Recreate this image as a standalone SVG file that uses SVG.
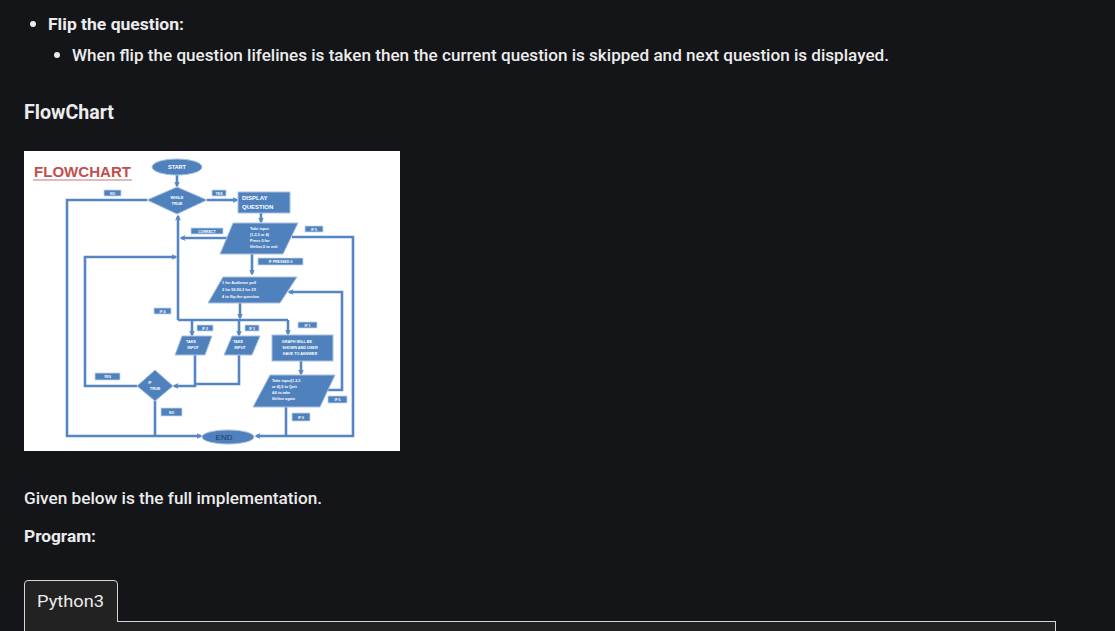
<svg xmlns="http://www.w3.org/2000/svg" width="1115" height="631" viewBox="0 0 1115 631">
<defs>
<style>
.pg{font-family:Roboto,"Noto Sans",sans-serif;fill:#ececec}
.b7{font-weight:700}
.b5{font-weight:500}
.sh{fill:#4f81bd;stroke:#a9c2e3;stroke-width:1}
.lb{fill:#4f81bd;stroke:#c4d6ee;stroke-width:0.8}
.t{font-family:"Liberation Sans",Arial,sans-serif;fill:#ffffff;font-weight:700;text-anchor:middle}
.c{fill:none;stroke:#5585c3;stroke-width:2.6;stroke-linejoin:miter}
.ch{fill:none;stroke:#c9daf0;stroke-width:4.4}
</style>
<marker id="ah" markerWidth="6" markerHeight="6" refX="4.5" refY="3" orient="auto" markerUnits="userSpaceOnUse" viewBox="0 0 6 6">
<path d="M0,0 L6,3 L0,6 L1.5,3 Z" fill="#5585c3"/>
</marker>
</defs>
<rect width="1115" height="631" fill="#141519"/>

<g id="page-text">
<circle cx="33" cy="24" r="3" fill="#ececec"/>
<text class="pg b7" x="48" y="30" font-size="17" textLength="136" lengthAdjust="spacingAndGlyphs">Flip the question:</text>
<circle cx="57" cy="55" r="3" fill="#ececec"/>
<text class="pg b5" x="72" y="61" font-size="16.5" textLength="817" lengthAdjust="spacingAndGlyphs">When flip the question lifelines is taken then the current question is skipped and next question is displayed.</text>
<text class="pg b7" x="24" y="119" font-size="20" textLength="90" lengthAdjust="spacingAndGlyphs">FlowChart</text>
<text class="pg b5" x="24" y="504" font-size="16.5" textLength="298" lengthAdjust="spacingAndGlyphs">Given below is the full implementation.</text>
<text class="pg b7" x="24" y="542" font-size="16.5" textLength="72" lengthAdjust="spacingAndGlyphs">Program:</text>
</g>

<g id="code-tab">
<rect x="24.5" y="621.5" width="1031" height="12" fill="#222222" stroke="#d6d6d6" stroke-width="1"/>
<path d="M24.5,631 V584 Q24.5,580.5 28,580.5 H114 Q117.5,580.5 117.5,584 V622" fill="#222222" stroke="#d6d6d6" stroke-width="1"/>
<text class="pg" x="37" y="607" font-size="17" textLength="67" lengthAdjust="spacingAndGlyphs">Python3</text>
</g>

<rect id="flowchart-image" x="24" y="151" width="376" height="300" fill="#ffffff"/>

<g id="title">
<text x="34" y="177" font-family="'Liberation Sans',Arial,sans-serif" font-weight="700" font-size="14.5" fill="#c0504d" textLength="97" lengthAdjust="spacingAndGlyphs">FLOWCHART</text>
<line x1="33" y1="180" x2="132" y2="180" stroke="#d9a3a2" stroke-width="1.5"/>
</g>

<g id="connectors">
<path class="c" d="M177,175 V186" marker-end="url(#ah)"/>
<path class="c" d="M207,200 H237" marker-end="url(#ah)"/>
<path class="c" d="M261,213 V222" marker-end="url(#ah)"/>
<path class="c" d="M147,200 H67 V436 H201" marker-end="url(#ah)"/>
<path class="c" d="M229,238 H181" marker-end="url(#ah)"/>
<path class="c" d="M178,320 V216" marker-end="url(#ah)"/>
<path class="c" d="M252,254 V274" marker-end="url(#ah)"/>
<path class="c" d="M292,237 H353 V436 H256" marker-end="url(#ah)"/>
<path class="c" d="M240,303 V318" marker-end="url(#ah)"/>
<path class="c" d="M178,320 H288"/>
<path class="c" d="M192,320 V335" marker-end="url(#ah)"/>
<path class="c" d="M239,320 V335" marker-end="url(#ah)"/>
<path class="c" d="M288,320 V334" marker-end="url(#ah)"/>
<path class="c" d="M195,355 V386 H174" marker-end="url(#ah)"/>
<path class="c" d="M239,355 V384 H195"/>
<path class="c" d="M137,386 H85 V257 H176" marker-end="url(#ah)"/>
<path class="c" d="M155,400 V436"/>
<path class="c" d="M301,361 V374" marker-end="url(#ah)"/>
<path class="c" d="M286,407 V436"/>
<path class="c" d="M328,390 H342 V292 H289" marker-end="url(#ah)"/>
</g>

<g id="start">
<ellipse class="sh" cx="177" cy="167" rx="25" ry="8"/>
<text class="t" x="177" y="169" font-size="5.5">START</text>
</g>
<g id="while-true">
<polygon class="sh" points="147,200 177,187 207,200 177,214"/>
<text class="t" x="177" y="199" font-size="4">WHILE</text>
<text class="t" x="177" y="205" font-size="4">TRUE</text>
</g>
<g id="display-question">
<rect class="sh" x="238" y="192" width="52" height="21"/>
<text class="t" x="242" y="200" font-size="6" text-anchor="start" style="text-anchor:start">DISPLAY</text>
<text class="t" x="242" y="209" font-size="6" style="text-anchor:start">QUESTION</text>
</g>
<g id="take-input">
<polygon class="sh" points="233,223 298,223 283,254 220,254"/>
<text class="t" x="250" y="230" font-size="3.8" style="text-anchor:start">Take input</text>
<text class="t" x="250" y="236" font-size="3.8" style="text-anchor:start">(1,2,3 or 4)</text>
<text class="t" x="250" y="242" font-size="3.8" style="text-anchor:start">Press 0 for</text>
<text class="t" x="250" y="248" font-size="3.8" style="text-anchor:start">lifeline,5 to exit</text>
</g>
<g id="lifeline-menu">
<polygon class="sh" points="223,277 297,277 280,303 208,303"/>
<text class="t" x="222" y="284" font-size="3.8" style="text-anchor:start">1 for Audience poll</text>
<text class="t" x="222" y="291" font-size="3.8" style="text-anchor:start">2 for 50-50,3 for 2X</text>
<text class="t" x="222" y="298" font-size="3.8" style="text-anchor:start">4 to flip the question</text>
</g>
<g id="take-input-2">
<polygon class="sh" points="182,336 212,336 205,355 175,355"/>
<text class="t" x="191" y="343" font-size="3.8">TAKE</text>
<text class="t" x="193" y="349" font-size="3.8">INPUT</text>
</g>
<g id="take-input-3">
<polygon class="sh" points="232,336 260,336 252,355 224,355"/>
<text class="t" x="238" y="343" font-size="3.8">TAKE</text>
<text class="t" x="240" y="349" font-size="3.8">INPUT</text>
</g>
<g id="graph">
<rect class="sh" x="272" y="335" width="61" height="26"/>
<text class="t" x="297" y="343" font-size="3.8">GRAPH WILL BE</text>
<text class="t" x="300" y="349" font-size="3.8">SHOWN AND USER</text>
<text class="t" x="300" y="355" font-size="3.8">HAVE TO ANSWER</text>
</g>
<g id="take-input-4">
<polygon class="sh" points="270,375 335,375 320,407 253,407"/>
<text class="t" x="272" y="382" font-size="3.8" style="text-anchor:start">Take input(1,2,3</text>
<text class="t" x="272" y="388" font-size="3.8" style="text-anchor:start">or 4),5 to Quit</text>
<text class="t" x="272" y="394" font-size="3.8" style="text-anchor:start">&amp;0 to take</text>
<text class="t" x="272" y="400" font-size="3.8" style="text-anchor:start">lifeline again</text>
</g>
<g id="if-true">
<polygon class="sh" points="137,386 155,370 173,386 155,401"/>
<text class="t" x="150" y="384" font-size="3.8">IF</text>
<text class="t" x="155" y="390" font-size="3.8">TRUE</text>
</g>
<g id="end">
<ellipse class="sh" cx="228" cy="437" rx="26" ry="7"/>
<text class="t" x="224" y="440" font-size="8" font-weight="400" fill="#1f3f6e" style="fill:#1f3a66;font-weight:400">END</text>
</g>

<g id="labels">
<rect class="lb" x="104" y="190" width="17" height="6"/><text class="t" x="112.5" y="194.5" font-size="3.5">NO</text>
<rect class="lb" x="212" y="190" width="14" height="6"/><text class="t" x="219" y="194.5" font-size="3.5">YES</text>
<rect class="lb" x="191" y="228" width="32" height="6"/><text class="t" x="207" y="232.5" font-size="3.5">CORRECT</text>
<rect class="lb" x="305" y="226" width="18" height="6"/><text class="t" x="314" y="230.5" font-size="3.5">IF 5</text>
<rect class="lb" x="258" y="258" width="45" height="7"/><text class="t" x="280.5" y="263" font-size="3.5">IF PRESSED 0</text>
<rect class="lb" x="154" y="308" width="17" height="6"/><text class="t" x="162.5" y="312.5" font-size="3.5">IF 4</text>
<rect class="lb" x="197" y="325" width="16" height="6"/><text class="t" x="205" y="329.5" font-size="3.5">IF 2</text>
<rect class="lb" x="245" y="325" width="14" height="6"/><text class="t" x="252" y="329.5" font-size="3.5">IF 3</text>
<rect class="lb" x="298" y="322" width="19" height="6"/><text class="t" x="307.5" y="326.5" font-size="3.5">IF 1</text>
<rect class="lb" x="95" y="373" width="25" height="7"/><text class="t" x="107.5" y="378" font-size="3.5">YES</text>
<rect class="lb" x="161" y="408" width="21" height="8"/><text class="t" x="171.5" y="413.5" font-size="3.5">NO</text>
<rect class="lb" x="328" y="396" width="19" height="7"/><text class="t" x="337.5" y="401" font-size="3.5">IF 6</text>
<rect class="lb" x="292" y="413" width="18" height="8"/><text class="t" x="301" y="418.5" font-size="3.5">IF 0</text>
</g>
</svg>
